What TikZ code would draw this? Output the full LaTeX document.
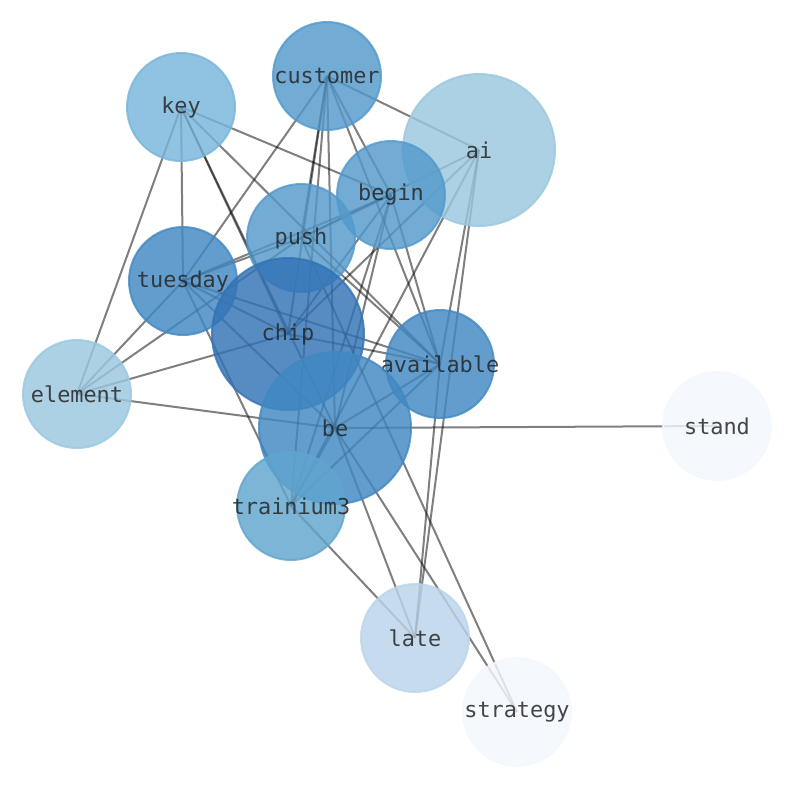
\documentclass[tikz,border=0pt]{standalone}
\usepackage{fontspec}
\setmonofont{DejaVu Sans Mono}
\pgfdeclarelayer{bg}
\pgfsetlayers{bg,main}

% node colours (blues, darker = more links)
\definecolor{chipblue}{RGB}{50,115,181}
\definecolor{midblue}{RGB}{65,136,194}
\definecolor{custblue}{RGB}{83,153,203}
\definecolor{trainblue}{RGB}{96,165,206}
\definecolor{keyblue}{RGB}{119,181,219}
\definecolor{paleblue}{RGB}{154,199,223}
\definecolor{lateblue}{RGB}{186,212,234}
\definecolor{whiteblue}{RGB}{243,248,254}

% long words must not widen their circle
\newcommand{\wordlabel}[1]{\makebox[0pt]{#1}}

\begin{document}
\begin{tikzpicture}[x=0.75pt,y=-0.75pt]
\useasboundingbox (0,0) rectangle (794,790);

        \begin{scope}[every node/.style={circle,draw,line width=1.5pt,inner sep=0pt,
            minimum size=81pt,fill opacity=0.82,draw opacity=0.8,text opacity=0.85,
            text=black!85,font=\ttfamily\fontsize{16.4}{18}\selectfont},
            bigword/.style={minimum size=114pt}]
          \node[fill=custblue,draw=custblue]   (customer)  at (327,76)  {\wordlabel{customer}};
          \node[fill=keyblue,draw=keyblue]     (key)       at (181,107) {key};
          \node[bigword,fill=paleblue,draw=paleblue] (ai) at (479,150) {ai};
          \node[fill=custblue,draw=custblue]   (begin)     at (391,195) {begin};
          \node[fill=custblue,draw=custblue]   (push)      at (301,238) {push};
          \node[fill=midblue,draw=midblue]     (tuesday)   at (183,281) {\wordlabel{tuesday}};
          \node[bigword,fill=chipblue,draw=chipblue] (chip) at (288,334) {chip};
          \node[fill=midblue,draw=midblue]     (available) at (440,364) {\wordlabel{available}};
          \node[fill=paleblue,draw=paleblue]   (element)   at (77,394)  {\wordlabel{element}};
          \node[bigword,fill=midblue,draw=midblue] (be)   at (335,428) {be};
          \node[fill=whiteblue,draw=whiteblue] (stand)     at (717,426) {stand};
          \node[fill=trainblue,draw=trainblue] (trainium3) at (291,506) {\wordlabel{trainium3}};
          \node[fill=lateblue,draw=lateblue]   (late)      at (415,638) {late};
          \node[fill=whiteblue,draw=whiteblue] (strategy)  at (517,712) {\wordlabel{strategy}};
        \end{scope}

        \begin{pgfonlayer}{bg}
          \begin{scope}[every edge/.style={draw=black,draw opacity=0.5,line width=1.5pt}]
            \path (customer.center) edge (tuesday.center);
            \path (customer.center) edge (push.center);
            \path (customer.center) edge (chip.center);
            \path (customer.center) edge (trainium3.center);
            \path (customer.center) edge (be.center);
            \path (customer.center) edge (begin.center);
            \path (customer.center) edge (available.center);
            \path (customer.center) edge (ai.center);
            \path (key.center) edge (element.center);
            \path (key.center) edge (tuesday.center);
            \path (key.center) edge (chip.center);
            \path (key.center) edge (be.center);
            \path (key.center) edge (available.center);
            \path (key.center) edge (begin.center);
            \path (ai.center) edge (push.center);
            \path (ai.center) edge (chip.center);
            \path (ai.center) edge (trainium3.center);
            \path (ai.center) edge (available.center);
            \path (ai.center) edge (late.center);
            \path (begin.center) edge (tuesday.center);
            \path (begin.center) edge (push.center);
            \path (begin.center) edge (chip.center);
            \path (begin.center) edge (be.center);
            \path (begin.center) edge (trainium3.center);
            \path (begin.center) edge (available.center);
            \path (push.center) edge (tuesday.center);
            \path (push.center) edge (element.center);
            \path (push.center) edge (strategy.center);
            \path (push.center) edge (available.center);
            \path (tuesday.center) edge (element.center);
            \path (tuesday.center) edge (chip.center);
            \path (tuesday.center) edge (available.center);
            \path (tuesday.center) edge (be.center);
            \path (tuesday.center) edge (trainium3.center);
            \path (chip.center) edge (element.center);
            \path (chip.center) edge (available.center);
            \path (element.center) edge (be.center);
            \path (be.center) edge (stand.center);
            \path (be.center) edge (trainium3.center);
            \path (be.center) edge (available.center);
            \path (be.center) edge (late.center);
            \path (be.center) edge (strategy.center);
            \path (trainium3.center) edge (late.center);
            \path (trainium3.center) edge (available.center);
            \path (available.center) edge (late.center);
          \end{scope}
        \end{pgfonlayer}

\end{tikzpicture}
\end{document}
